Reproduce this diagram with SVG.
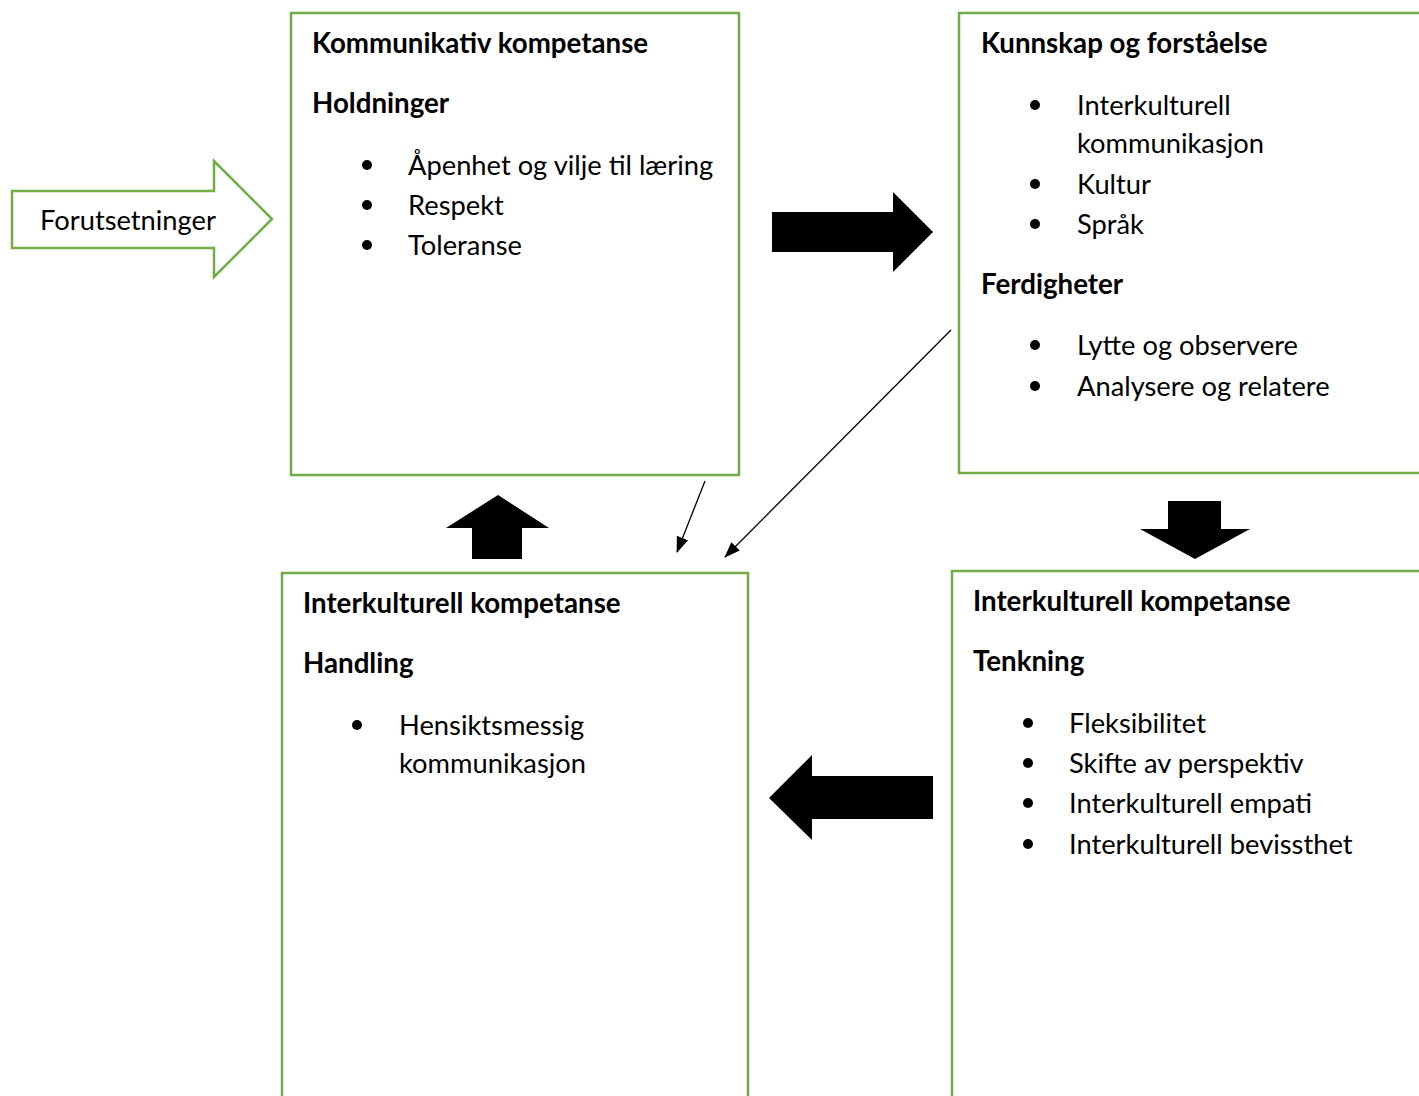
<svg xmlns="http://www.w3.org/2000/svg" width="1419" height="1096" viewBox="0 0 1419 1096">
<style>
.box{fill:#fff;stroke:#70AD47;stroke-width:2.5}
.t{font-family:Lato,"Open Sans",sans-serif;font-size:27.3px;fill:#000}
.b{font-weight:bold;font-size:27.7px}
.blk{fill:#000}
.thin{stroke:#000;stroke-width:1.3;fill:none}
</style>
<defs>
<marker id="ah2" markerWidth="16" markerHeight="16" refX="15" refY="8" orient="auto" markerUnits="userSpaceOnUse" viewBox="0 0 16 16">
<path d="M0,2 L16,8 L0,14 Z" fill="#000"/>
</marker>
</defs>
<rect width="1419" height="1096" fill="#fff"/>

<g id="forutsetninger">
<path class="box" d="M12,191 H214 V161 L272,219 L214,277 V248 H12 Z"/>
<text class="t" x="40" y="230">Forutsetninger</text>
</g>

<g id="kommunikativ">
<rect class="box" x="291" y="13" width="448" height="462"/>
<text class="t b" x="312" y="53">Kommunikativ kompetanse</text>
<text class="t b" x="312" y="113">Holdninger</text>
<circle cx="367" cy="165" r="5"/><text class="t" x="408" y="175">Åpenhet og vilje til læring</text>
<circle cx="367" cy="205" r="5"/><text class="t" x="408" y="215">Respekt</text>
<circle cx="367" cy="245" r="5"/><text class="t" x="408" y="255">Toleranse</text>
</g>

<g id="kunnskap">
<rect class="box" x="959" y="13" width="470" height="460"/>
<text class="t b" x="981" y="53">Kunnskap og forståelse</text>
<circle cx="1035" cy="105" r="5"/><text class="t" x="1077" y="115">Interkulturell</text>
<text class="t" x="1077" y="153">kommunikasjon</text>
<circle cx="1035" cy="184" r="5"/><text class="t" x="1077" y="194">Kultur</text>
<circle cx="1035" cy="224" r="5"/><text class="t" x="1077" y="234">Språk</text>
<text class="t b" x="981" y="294">Ferdigheter</text>
<circle cx="1035" cy="345" r="5"/><text class="t" x="1077" y="355">Lytte og observere</text>
<circle cx="1035" cy="386" r="5"/><text class="t" x="1077" y="396">Analysere og relatere</text>
</g>

<g id="handling">
<rect class="box" x="282" y="573" width="466" height="540"/>
<text class="t b" x="303" y="613">Interkulturell kompetanse</text>
<text class="t b" x="303" y="673">Handling</text>
<circle cx="357" cy="725" r="5"/><text class="t" x="399" y="735">Hensiktsmessig</text>
<text class="t" x="399" y="773">kommunikasjon</text>
</g>

<g id="tenkning">
<rect class="box" x="952" y="571" width="480" height="540"/>
<text class="t b" x="973" y="611">Interkulturell kompetanse</text>
<text class="t b" x="973" y="671">Tenkning</text>
<circle cx="1028" cy="723" r="5"/><text class="t" x="1069" y="733">Fleksibilitet</text>
<circle cx="1028" cy="763" r="5"/><text class="t" x="1069" y="773">Skifte av perspektiv</text>
<circle cx="1028" cy="803" r="5"/><text class="t" x="1069" y="813">Interkulturell empati</text>
<circle cx="1028" cy="844" r="5"/><text class="t" x="1069" y="854">Interkulturell bevissthet</text>
</g>

<g id="connectors">
<path class="blk" d="M772,212 H893 V192 L933,232 L893,272 V252 H772 Z"/>
<path class="blk" d="M1168,501 H1221 V529 H1250 L1195,559 L1140,529 H1168 Z"/>
<path class="blk" d="M933,776 H812 V755 L769,798 L812,840 V819 H933 Z"/>
<path class="blk" d="M472,559 V528 H446 L498,495 L549,528 H522 V559 Z"/>
<line class="thin" x1="705" y1="481" x2="677" y2="552" marker-end="url(#ah2)"/>
<line class="thin" x1="951" y1="330" x2="725" y2="557" marker-end="url(#ah2)"/>
</g>
</svg>
